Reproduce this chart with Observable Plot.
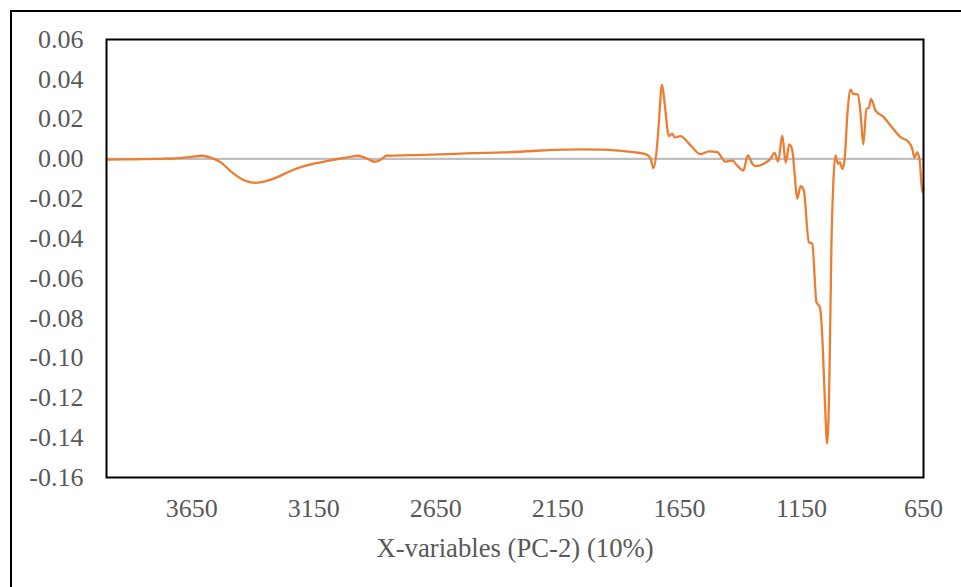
<!DOCTYPE html>
<html>
<head>
<meta charset="utf-8">
<script src="https://cdn.jsdelivr.net/npm/d3@7"></script>
<script src="https://cdn.jsdelivr.net/npm/@observablehq/plot@0.6"></script>
<style>
  html, body { margin: 0; padding: 0; background: #fff; overflow: hidden; }
  #wrap { position: relative; width: 961px; height: 587px; }
  #border { position: absolute; left: 10px; top: 10px; width: 1000px; height: 700px;
            border: 2px solid #000; box-sizing: border-box; pointer-events: none; }
  #chart { position: absolute; left: 0; top: 0; }
</style>
</head>
<body>
<div id="wrap">
  <div id="chart"></div>
  <div id="border"></div>
</div>
<script>
// PC-2 loadings across the spectrum (wavenumber, cm-1)
const wavenumbers = [
  4000, 3900, 3800, 3700, 3650, 3608, 3570, 3533, 3479, 3430, 3389, 3350, 3315, 3233, 3151, 3069,
  3000, 2971, 2946, 2920, 2901, 2880, 2852, 2750, 2630, 2500, 2372, 2250, 2167, 2050, 1974, 1900,
  1839, 1800, 1782, 1769, 1757, 1743, 1736, 1722, 1712, 1694, 1680, 1670, 1647, 1605, 1564, 1530,
  1496, 1462, 1434, 1414, 1389, 1370, 1352, 1338, 1305, 1277, 1261, 1246, 1229, 1215, 1200, 1188,
  1179, 1168, 1154, 1141, 1120, 1106, 1089, 1075, 1065, 1056, 1045, 1035, 1028, 1020, 1011, 1001,
  993, 983, 974, 962, 949, 938, 919, 908, 897, 884, 874, 865, 847, 813, 785, 744,
  710, 696, 687, 676, 665, 655, 650
];
const loadings = [
  -0.0003, -0.0002, 0.0000, 0.0004, 0.0010, 0.0016, 0.0005, -0.0016, -0.0074, -0.0110, -0.0120, -0.0113, -0.0099, -0.0054, -0.0024, -0.0004,
  0.0010, 0.0016, 0.0009, -0.0005, -0.0014, -0.0008, 0.0016, 0.0019, 0.0023, 0.0029, 0.0033, 0.0040, 0.0046, 0.0048, 0.0047, 0.0042,
  0.0034, 0.0027, 0.0020, 0.0001, -0.0046, 0.0059, 0.0168, 0.0373, 0.0285, 0.0115, 0.0127, 0.0108, 0.0115, 0.0068, 0.0024, 0.0038,
  0.0034, -0.0013, -0.0008, -0.0033, -0.0058, 0.0018, -0.0024, -0.0036, -0.0024, 0.0001, 0.0031, -0.0013, 0.0118, -0.0019, 0.0073, 0.0043,
  -0.0066, -0.0200, -0.0137, -0.0158, -0.0418, -0.0426, -0.0719, -0.0744, -0.0895, -0.1163, -0.1430, -0.1046, -0.0460, -0.0125, 0.0018, -0.0024,
  -0.0016, -0.0050, -0.0010, 0.0227, 0.0348, 0.0327, 0.0324, 0.0227, 0.0073, 0.0252, 0.0257, 0.0302, 0.0244, 0.0210, 0.0168, 0.0110,
  0.0084, 0.0051, 0.0006, 0.0034, -0.0016, -0.0167, -0.0150
];
const xTicks = [3650, 3150, 2650, 2150, 1650, 1150, 650];
const yTicks = [-0.16, -0.14, -0.12, -0.10, -0.08, -0.06, -0.04, -0.02, 0.00, 0.02, 0.04, 0.06];
const xTitle = "X-variables (PC-2) (10%)";

const data = wavenumbers.map((w, i) => ({w, v: loadings[i]}));
const fmt = d => (Math.abs(d) < 1e-9 ? 0 : d).toFixed(2);

const chart = Plot.plot({
  width: 961,
  height: 587,
  marginLeft: 106,
  marginRight: 38,
  marginTop: 39,
  marginBottom: 110,
  style: {fontFamily: "'Liberation Serif', 'Times New Roman', serif", fontSize: "26px", color: "#595959", background: "#fff"},
  x: {domain: [4000, 650], label: null},
  y: {domain: [-0.16, 0.06], label: null},
  marks: [
    Plot.ruleY([0], {stroke: "#BFBFBF", strokeWidth: 2.2}),
    Plot.line(data, {x: "w", y: "v", stroke: "#ED7D31", strokeWidth: 2.3, curve: "monotone-x"}),
    Plot.frame({stroke: "#000", strokeWidth: 2}),
    Plot.axisY({ticks: yTicks, tickFormat: fmt, tickSize: 0, tickPadding: 23, fill: "#595959", label: null}),
    Plot.axisX({ticks: xTicks, tickFormat: d => String(d), tickSize: 0, tickPadding: 21, fill: "#595959", label: null}),
    Plot.text([xTitle], {frameAnchor: "bottom", dy: 71, lineAnchor: "middle", fill: "#595959", fontSize: 26.7})
  ]
});
document.getElementById("chart").appendChild(chart);
</script>
</body>
</html>
